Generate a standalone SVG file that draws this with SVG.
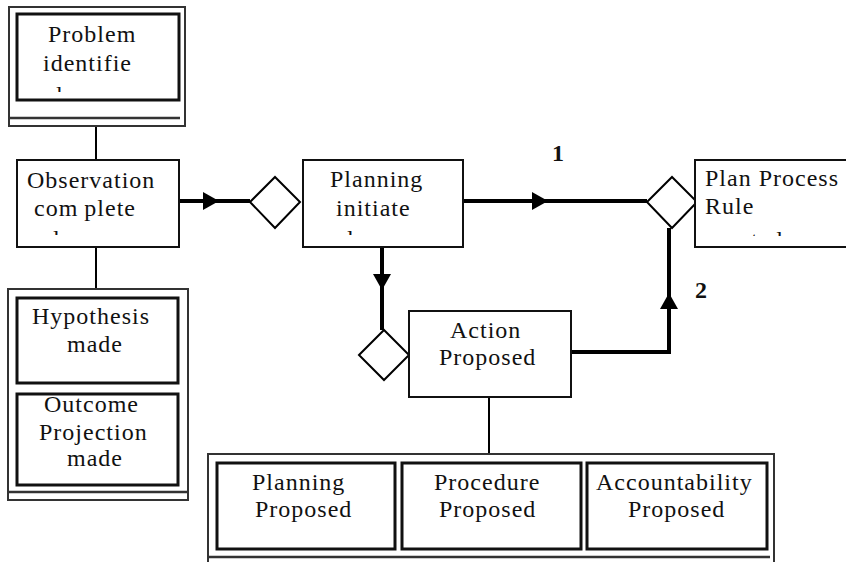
<svg xmlns="http://www.w3.org/2000/svg" xmlns:xlink="http://www.w3.org/1999/xlink" width="846" height="562" viewBox="0 0 846 562">
<style>
.box{fill:#fff;stroke:#111;stroke-width:2}
.inner{fill:#fff;stroke:#111;stroke-width:3}
.frame{fill:#fff;stroke:#333;stroke-width:2}
.div{stroke:#333;stroke-width:2.5;fill:none}
.thin{stroke:#000;stroke-width:2;fill:none}
.thick{stroke:#000;stroke-width:4;fill:none}
.dia{fill:#fff;stroke:#000;stroke-width:2}
.ah{fill:#000}
text{font-family:"Liberation Serif","Times New Roman",serif;font-size:24px;letter-spacing:1px;fill:#111}
.lbl{font-weight:bold;letter-spacing:0}
</style>
<defs>
<path id="ah" d="M0,0 L-16,-9 L-16,9 Z"/>
<clipPath id="cProblem"><rect x="17" y="14" width="162" height="78"/></clipPath>
<clipPath id="cObs"><rect x="17" y="160" width="162" height="75"/></clipPath>
<clipPath id="cPlan"><rect x="303" y="160" width="160" height="75"/></clipPath>
<clipPath id="cRule"><rect x="695" y="160" width="151" height="76"/></clipPath>
</defs>

<g id="connectors">
<line class="thin" x1="96" y1="126" x2="96" y2="160"/>
<line class="thin" x1="96" y1="247" x2="96" y2="289"/>
<line class="thick" x1="179" y1="201" x2="250" y2="201"/>
<use href="#ah" class="ah" transform="translate(219,201)"/>
<line class="thick" x1="463" y1="201" x2="647" y2="201"/>
<use href="#ah" class="ah" transform="translate(548,201)"/>
<line class="thick" x1="382" y1="247" x2="382" y2="330"/>
<use href="#ah" class="ah" transform="translate(382,290) rotate(90)"/>
<polyline class="thick" points="571,352 669,352 669,228"/>
<use href="#ah" class="ah" transform="translate(669,293) rotate(-90)"/>
<line class="thin" x1="489" y1="397" x2="489" y2="454"/>
<text class="lbl" x="552" y="161">1</text>
<text class="lbl" x="695" y="298">2</text>
</g>

<g id="problem">
<rect class="frame" x="9" y="7" width="176" height="119"/>
<line class="div" x1="9" y1="118" x2="180" y2="118"/>
<rect class="inner" x="17" y="14" width="162" height="86"/>
<text x="48" y="42">Problem</text>
<text x="43" y="71">identifie</text>
<text x="50" y="103" clip-path="url(#cProblem)">d</text>
</g>

<g id="observation">
<rect class="box" x="17" y="160" width="162" height="87"/>
<text x="27" y="188">Observation</text>
<text x="34" y="216">com<tspan dx="6">plete</tspan></text>
<text x="47" y="247" clip-path="url(#cObs)">d</text>
</g>

<g id="observation-stack">
<rect class="frame" x="8" y="289" width="180" height="211"/>
<line class="div" x1="8" y1="492" x2="188" y2="492"/>
</g>

<g id="hypothesis">
<rect class="inner" x="17" y="298" width="161" height="85"/>
<text x="32" y="324">Hypothesis</text>
<text x="67" y="352">made</text>
</g>

<g id="outcome">
<rect class="inner" x="17" y="394" width="161" height="91"/>
<text x="44" y="412">Outcome</text>
<text x="39" y="440">Projection</text>
<text x="67" y="466">made</text>
</g>

<g id="diamond-1">
<polygon class="dia" points="250,202 275,177 300,202 275,228"/>
</g>

<g id="planning">
<rect class="box" x="303" y="160" width="160" height="87"/>
<text x="330" y="187">Planning</text>
<text x="336" y="216">initiate</text>
<text x="341" y="247" clip-path="url(#cPlan)">d</text>
</g>

<g id="diamond-3">
<polygon class="dia" points="647,202 672,177 697,202 672,228"/>
</g>

<g id="plan-process-rule">
<rect class="box" x="695" y="160" width="160" height="87"/>
<text x="705" y="186">Plan Process</text>
<text x="705" y="214">Rule</text>
<text x="707" y="248" clip-path="url(#cRule)">created</text>
</g>

<g id="diamond-2">
<polygon class="dia" points="359,355 384,330 409,355 384,380"/>
</g>

<g id="action">
<rect class="box" x="409" y="311" width="162" height="86"/>
<text x="450" y="338">Action</text>
<text x="439" y="365">Proposed</text>
</g>

<g id="action-stack">
<rect class="frame" x="208" y="454" width="566" height="120"/>
<line class="div" x1="208" y1="557" x2="770" y2="557"/>
</g>

<g id="planning-proposed">
<rect class="inner" x="217" y="463" width="178" height="86"/>
<text x="252" y="490">Planning</text>
<text x="255" y="517">Proposed</text>
</g>

<g id="procedure-proposed">
<rect class="inner" x="402" y="463" width="179" height="86"/>
<text x="434" y="490">Procedure</text>
<text x="439" y="517">Proposed</text>
</g>

<g id="accountability-proposed">
<rect class="inner" x="587" y="463" width="180" height="86"/>
<text x="596" y="490">Accountability</text>
<text x="628" y="517">Proposed</text>
</g>
</svg>
